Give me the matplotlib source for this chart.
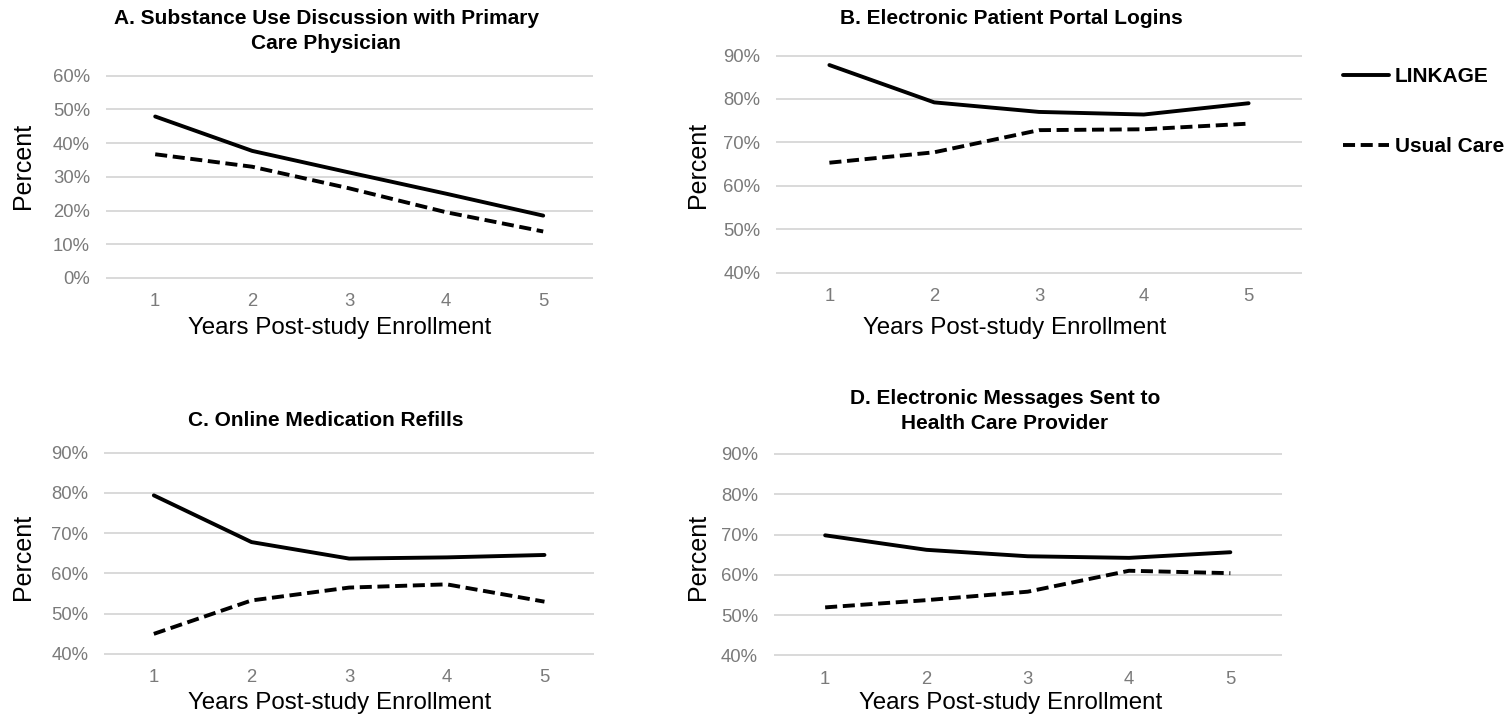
import matplotlib
matplotlib.use("Agg")
import matplotlib.pyplot as plt
from matplotlib.ticker import FuncFormatter

plt.rcParams['font.family'] = ['Liberation Sans', 'DejaVu Sans']

# ---- data ----
years = [1, 2, 3, 4, 5]
year_labels = ["1", "2", "3", "4", "5"]

a_linkage = [47.9, 37.7, 31.3, 25.0, 18.5]
a_usual = [36.7, 33.0, 26.6, 19.5, 13.8]
b_linkage = [87.8, 79.2, 77.0, 76.4, 79.0]
b_usual = [65.3, 67.7, 72.8, 73.0, 74.3]
c_linkage = [79.4, 67.8, 63.7, 64.0, 64.6]
c_usual = [45.0, 53.3, 56.5, 57.3, 53.0]
d_linkage = [69.8, 66.2, 64.6, 64.2, 65.6]
d_usual = [51.9, 53.7, 55.8, 61.0, 60.4]

a_ticks = [0, 10, 20, 30, 40, 50, 60]
bcd_ticks = [40, 50, 60, 70, 80, 90]

titles = ["A. Substance Use Discussion with Primary\nCare Physician",
          "B. Electronic Patient Portal Logins",
          "C. Online Medication Refills",
          "D. Electronic Messages Sent to\nHealth Care Provider"]
series_names = ["LINKAGE", "Usual Care"]
xlabel = "Years Post-study Enrollment"
ylabel = "Percent"

# ---- layout ----
W, H = 1510, 723
fig = plt.figure(figsize=(W / 100, H / 100), dpi=100)
fig.patch.set_facecolor("white")


def px_axes(left, right, top, bottom):
    return fig.add_axes([left / W, 1 - bottom / H, (right - left) / W, (bottom - top) / H])


TICK_COLOR = "#7a7a7a"
GRID_COLOR = "#d9d9d9"
LW = 2.8
DASHES = (3.1, 1.45)

panels = [
    # data, ticks, axes box (l, r, t, b), title (x, y), xlabel(x,y), ylabel(x,y)
    (a_linkage, a_usual, a_ticks, (106.7, 591.7, 75.7, 278.0), (326, 31), (340, 328), (23, 166)),
    (b_linkage, b_usual, bcd_ticks, (777.0, 1301.0, 55.5, 272.5), (1011, 18), (1015, 328), (698, 165)),
    (c_linkage, c_usual, bcd_ticks, (105.0, 593.3, 452.7, 654.0), (326, 420), (340, 703), (23, 557)),
    (d_linkage, d_usual, bcd_ticks, (774.5, 1281.0, 454.0, 655.3), (1005, 411), (1011, 703), (698, 557)),
]

axes = []
for i, (lk, uc, ticks, box, tpos, xpos, ypos) in enumerate(panels):
    ax = px_axes(*box)
    axes.append(ax)
    ax.plot(years, lk, color="black", lw=LW, solid_capstyle="round",
            solid_joinstyle="round", label=series_names[0])
    ax.plot(years, uc, color="black", lw=LW, linestyle=(0, DASHES),
            dash_capstyle="butt", label=series_names[1])
    ax.set_xlim(0.5, 5.5)
    ax.set_ylim(ticks[0], ticks[-1])
    ax.set_yticks(ticks)
    ax.yaxis.set_major_formatter(FuncFormatter(lambda v, p: f"{v:.0f}%"))
    ax.set_xticks(years)
    ax.set_xticklabels(year_labels)
    ax.tick_params(axis="both", length=0, labelsize=13.3, labelcolor=TICK_COLOR)
    ax.tick_params(axis="x", pad=11)
    ax.tick_params(axis="y", pad=12)
    for s in ax.spines.values():
        s.set_visible(False)
    ax.grid(axis="y", color=GRID_COLOR, lw=1.4)
    ax.set_axisbelow(True)
    for gl in ax.get_ygridlines():
        gl.set_clip_on(False)

    fig.text(tpos[0] / W, 1 - tpos[1] / H, titles[i], ha="center", va="center",
             fontsize=15, fontweight="bold", color="black", linespacing=1.38)
    fig.text(xpos[0] / W, 1 - xpos[1] / H, xlabel, ha="center", va="center",
             fontsize=17.4, color="black")
    fig.text(ypos[0] / W, 1 - ypos[1] / H, ylabel, ha="center", va="center",
             fontsize=18, color="black", rotation=90)

handles, labels = axes[1].get_legend_handles_labels()
leg = fig.legend(handles, labels, loc="center left",
                 bbox_to_anchor=(1343 / W, 1 - 111.5 / H),
                 frameon=False, borderpad=0, borderaxespad=0,
                 handlelength=2.2, handletextpad=0.3, labelspacing=2.45,
                 prop={"size": 15, "weight": "bold"})

fig.savefig("out.png", dpi=100, facecolor="white")
